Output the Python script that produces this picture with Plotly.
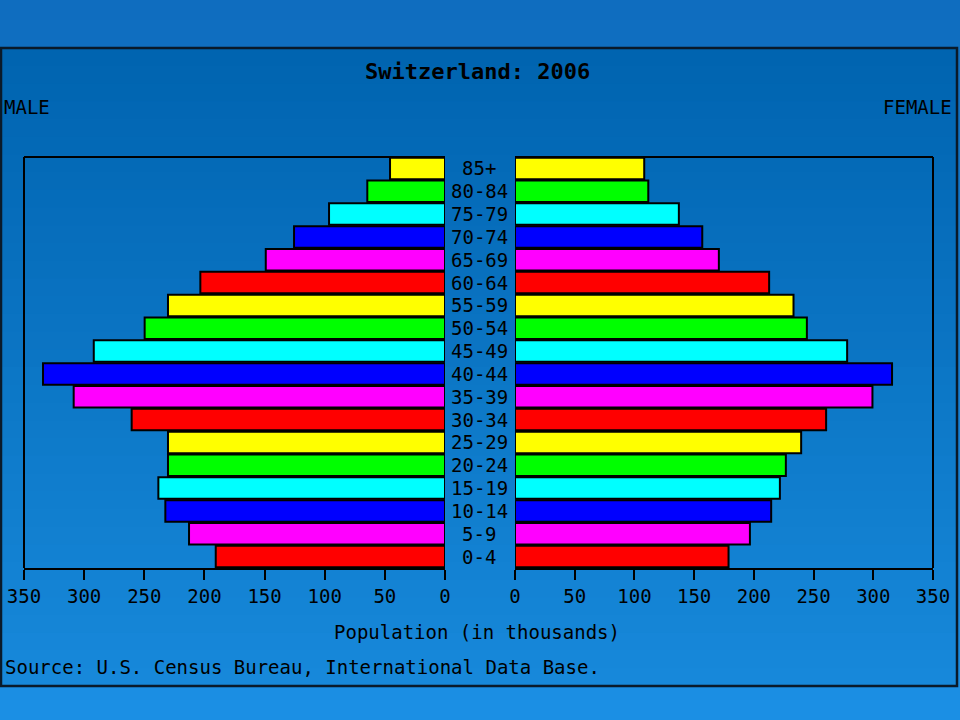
import plotly.graph_objects as go

W, H = 960, 720

ages = ["0-4", "5-9", "10-14", "15-19", "20-24", "25-29", "30-34", "35-39",
        "40-44", "45-49", "50-54", "55-59", "60-64", "65-69", "70-74",
        "75-79", "80-84", "85+"]
male = [190.6, 212.8, 232.5, 238.3, 230.3, 230.3, 260.5, 308.7, 334.2,
        292.0, 249.7, 230.3, 203.4, 149.0, 125.5, 96.4, 64.6, 45.7]
female = [178.8, 196.7, 214.5, 221.8, 226.8, 239.6, 260.5, 299.3, 315.7,
          278.1, 244.4, 233.2, 212.8, 170.7, 156.8, 137.2, 111.6, 108.2]
palette = ["#FF0000", "#FF00FF", "#0000FF", "#00FFFF", "#00FF00", "#FFFF00"]
bar_colors = [palette[i % 6] for i in range(len(ages))]
x_ticks = [0, 50, 100, 150, 200, 250, 300, 350]

FONT = "DejaVu Sans Mono"


def px(x):
    return x / W


def py(y):
    return 1 - y / H


def mix(c1, c2, t):
    a = [int(c1[i:i + 2], 16) for i in (1, 3, 5)]
    b = [int(c2[i:i + 2], 16) for i in (1, 3, 5)]
    return "#" + "".join(f"{round(a[k] + (b[k] - a[k]) * t):02x}" for k in range(3))


fig = go.Figure()
fig.add_trace(go.Bar(
    y=ages, x=male, orientation="h", xaxis="x", yaxis="y",
    marker=dict(color=bar_colors, line=dict(color="black", width=2)),
    showlegend=False, hoverinfo="x+y"))
fig.add_trace(go.Bar(
    y=ages, x=female, orientation="h", xaxis="x2", yaxis="y",
    marker=dict(color=bar_colors, line=dict(color="black", width=2)),
    showlegend=False, hoverinfo="x+y"))

shapes = []
n = 36
for i in range(n):
    y0 = i * H / n
    y1 = (i + 1) * H / n + 1
    shapes.append(dict(type="rect", xref="paper", yref="paper", layer="below",
                       x0=0, x1=1, y0=max(py(y1), 0), y1=py(y0),
                       fillcolor=mix("#0f6dbf", "#1b8fe4", i / (n - 1)),
                       line=dict(width=0)))
bx0, bx1, by0, by1 = 1, 957, 48, 686
for i in range(n):
    y0 = by0 + i * (by1 - by0) / n
    y1 = by0 + (i + 1) * (by1 - by0) / n + 1
    shapes.append(dict(type="rect", xref="paper", yref="paper", layer="below",
                       x0=px(bx0), x1=px(bx1), y0=py(min(y1, by1)), y1=py(y0),
                       fillcolor=mix("#0064b0", "#1788da", i / (n - 1)),
                       line=dict(width=0)))
shapes.append(dict(type="rect", xref="paper", yref="paper", layer="below",
                   x0=px(bx0), x1=px(bx1), y0=py(by1), y1=py(by0),
                   line=dict(color="#0a1a2a", width=2.5)))
for xr, side in (("x domain", 0), ("x2 domain", 1)):
    shapes.append(dict(type="line", xref=xr, yref="y domain", layer="above",
                       x0=0, x1=1, y0=1, y1=1, line=dict(color="black", width=2)))
    shapes.append(dict(type="line", xref=xr, yref="y domain", layer="above",
                       x0=side, x1=side, y0=0, y1=1, line=dict(color="black", width=2)))

annotations = [
    dict(text="<b>Switzerland: 2006</b>", x=px(477), y=py(72), xref="paper", yref="paper",
         xanchor="center", yanchor="middle",
         showarrow=False, font=dict(family=FONT, size=22, color="black")),
    dict(text="MALE", x=px(2), y=py(107), xref="paper", yref="paper",
         xanchor="left", yanchor="middle",
         showarrow=False, font=dict(family=FONT, size=19, color="black")),
    dict(text="FEMALE", x=px(954), y=py(107), xref="paper", yref="paper",
         xanchor="right", yanchor="middle",
         showarrow=False, font=dict(family=FONT, size=19, color="black")),
    dict(text="Population (in thousands)", x=px(477), y=py(632), xref="paper", yref="paper",
         xanchor="center", yanchor="middle",
         showarrow=False, font=dict(family=FONT, size=19, color="black")),
    dict(text="Source: U.S. Census Bureau, International Data Base.", x=px(3), y=py(667),
         xref="paper", yref="paper", xanchor="left", yanchor="middle",
         showarrow=False, font=dict(family=FONT, size=19, color="black")),
]
for a in ages:
    annotations.append(dict(text=a, x=px(479), y=a, xref="paper", yref="y",
                            xanchor="center", yanchor="middle", showarrow=False,
                            font=dict(family=FONT, size=19, color="black")))

axis_common = dict(
    tickmode="array", tickvals=x_ticks, ticktext=[str(v) for v in x_ticks],
    ticks="outside", ticklen=10, tickwidth=2, tickcolor="black",
    showline=True, linecolor="black", linewidth=2, showgrid=False, zeroline=False,
    tickfont=dict(family=FONT, size=19, color="black"), fixedrange=True,
    automargin=False,
)

fig.update_layout(
    template="none",
    width=W, height=H,
    margin=dict(l=0, r=0, t=0, b=0, pad=0),
    paper_bgcolor="#1279c8",
    plot_bgcolor="rgba(0,0,0,0)",
    bargap=0.06,
    xaxis=dict(domain=[px(24), px(445)], range=[350, 0], anchor="y", **axis_common),
    xaxis2=dict(domain=[px(515), px(933)], range=[0, 350], anchor="y", **axis_common),
    yaxis=dict(domain=[py(568), py(157)], range=[-0.5, len(ages) - 0.5],
               showticklabels=False, showgrid=False, zeroline=False, showline=False,
               ticks="", anchor="x", fixedrange=True, automargin=False),
    shapes=shapes,
    annotations=annotations,
    showlegend=False,
)

fig.write_html("out.html", config={"displayModeBar": False},
               post_script="document.body.style.margin='0';document.body.style.overflow='hidden';")
